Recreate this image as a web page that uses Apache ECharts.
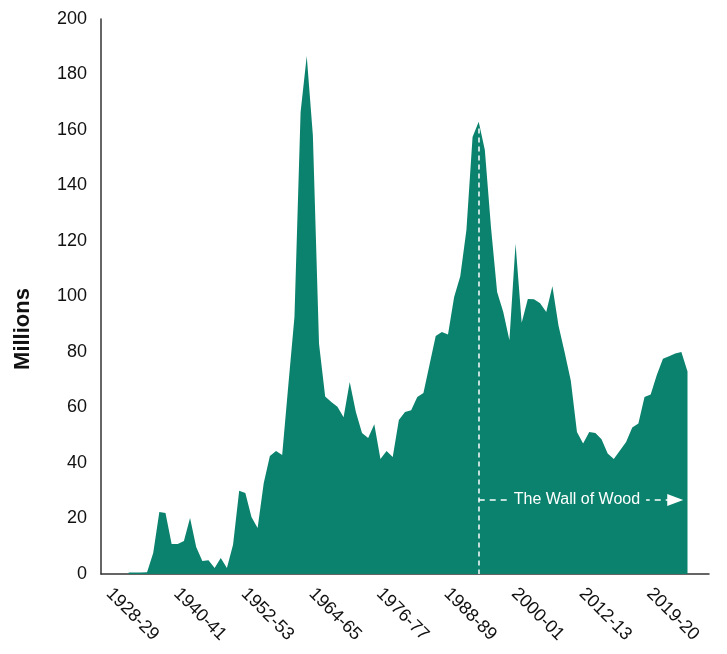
<!DOCTYPE html>
<html>
<head>
<meta charset="utf-8">
<script src="https://cdn.jsdelivr.net/npm/echarts@6/dist/echarts.min.js"></script>
<style>html,body{margin:0;padding:0;background:#fff;}#chart{width:727px;height:654px;}</style>
</head>
<body>
<div id="chart"></div>
<script>
// Tick labels shown every 11th category
const tickLabels = ['1928-29','1940-41','1952-53','1964-65','1976-77','1988-89','2000-01','2012-13','2019-20'];
const tickStep = 11;
const categoryCount = 99;
const categories = Array.from({length: categoryCount}, (_, i) => 'p' + i);
// Series values (millions), first 4 categories empty
const leadingEmpty = 4;
const values = [
  0.5, 0.5, 0.5, 0.6, 7.6, 22.3, 22, 10.8, 10.8, 11.9,
  20.2, 9.7, 4.7, 5.0, 2.2, 5.8, 2.2, 10.5, 30, 29.2,
  20.5, 16.6, 32.8, 42.5, 44.3, 42.9, 68, 92.6, 166.5, 186.7,
  158, 83, 64, 62, 60.3, 56.5, 69.2, 58.4, 50.8, 49,
  54, 41.4, 44.3, 42.2, 55.5, 58.4, 59, 63.8, 65.2, 75.5,
  85.8, 87.2, 86.3, 99.8, 107.3, 124, 157.5, 163, 152.8, 125,
  101.6, 94.4, 84.2, 119, 90.5, 99.1, 99, 97.6, 94.4, 103.7,
  89.5, 79.8, 69.6, 51.2, 47, 51.2, 50.8, 48.6, 43.4, 41.4,
  44.5, 47.6, 52.8, 54.2, 63.8, 64.7, 71.7, 77.6, 78.5, 79.5,
  80, 73
];
const annotationText = 'The Wall of Wood';
const annotationLevel = 26.7;
const yTicks = {min: 0, max: 200, interval: 20};

const seriesData = categories.map((c, i) => {
  const k = i - leadingEmpty;
  return (k >= 0 && k < values.length) ? values[k] : null;
});
// wall starts at the 1990s peak (max after the 1960s hump)
let wallIdx = 0, wallPeak = -1;
seriesData.forEach((v, i) => { if (i > 50 && v != null && v > wallPeak) { wallPeak = v; wallIdx = i; } });
const arrowEndIdx = leadingEmpty + values.length - 3;

const fill = '#0b826e';
const font = 'Liberation Sans, Arial, Helvetica, sans-serif';
const chart = echarts.init(document.getElementById('chart'));
chart.setOption({
  animation: false,
  grid: {left: 101, right: 18, top: 19, bottom: 80},
  xAxis: {
    type: 'category',
    data: categories,
    boundaryGap: true,
    axisLine: {lineStyle: {color: '#333', width: 1.5}},
    axisTick: {show: false},
    axisLabel: {
      interval: tickStep - 1,
      rotate: -45,
      margin: 12,
      padding: [0, 0, 0, 7],
      color: '#111',
      fontSize: 18,
      fontFamily: font,
      formatter: (v, i) => (i % tickStep === 0 ? (tickLabels[i / tickStep] || '') : '')
    },
    splitLine: {show: false}
  },
  yAxis: {
    type: 'value',
    min: yTicks.min, max: yTicks.max, interval: yTicks.interval,
    axisLine: {show: true, lineStyle: {color: '#333', width: 1.5}},
    axisTick: {show: false},
    splitLine: {show: false},
    axisLabel: {color: '#111', fontSize: 18, margin: 14, fontFamily: font}
  },
  graphic: [{
    type: 'text',
    x: 23, y: 329,
    rotation: Math.PI / 2,
    style: {text: 'Millions', fill: '#111', fontSize: 22, fontWeight: 'bold', fontFamily: font, align: 'center', verticalAlign: 'middle'}
  }],
  series: [{
    type: 'line',
    data: seriesData,
    symbol: 'none',
    connectNulls: false,
    lineStyle: {width: 0},
    areaStyle: {color: fill, opacity: 1},
    markLine: {
      silent: true,
      animation: false,
      data: [
        [
          {coord: [categories[wallIdx], wallPeak * 0.985], symbol: 'none', lineStyle: {color: '#fff', type: [5, 4], width: 1.5}, label: {show: false}},
          {coord: [categories[wallIdx], 0], symbol: 'none'}
        ],
        [
          {coord: [categories[wallIdx], annotationLevel], symbol: 'none',
           lineStyle: {color: '#fff', type: [6, 5], width: 1.5},
           label: {show: true, position: 'middle', distance: 0, verticalAlign: 'middle', formatter: annotationText, color: '#fff', fontSize: 16,
                   fontFamily: font, backgroundColor: fill, padding: [3, 6]}},
          {coord: [categories[arrowEndIdx], annotationLevel], symbol: 'triangle', symbolSize: [12, 16]}
        ]
      ]
    }
  }]
});
</script>
</body>
</html>
